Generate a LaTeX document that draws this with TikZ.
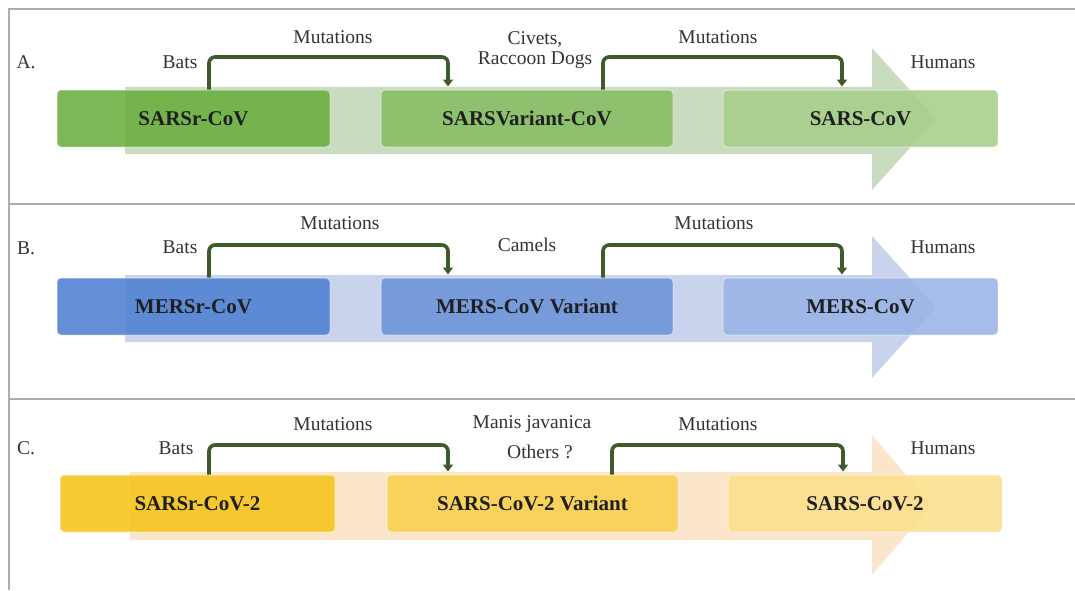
\documentclass[tikz,border=0pt]{standalone}
\usepackage{fontspec}
\setmainfont{Liberation Serif}
\usetikzlibrary{arrows.meta,calc}
\definecolor{gA1}{HTML}{6AAE3D}
\definecolor{gA2}{HTML}{86BE63}
\definecolor{gA3}{HTML}{A6CF8B}
\definecolor{gAr}{HTML}{C9DCBF}
\definecolor{bB1}{HTML}{4F80D2}
\definecolor{bB2}{HTML}{6B93D8}
\definecolor{bB3}{HTML}{9AB4E7}
\definecolor{bBr}{HTML}{CAD3EC}
\definecolor{yC1}{HTML}{F6C41A}
\definecolor{yC2}{HTML}{F8D04C}
\definecolor{yC3}{HTML}{FBDF8C}
\definecolor{yCr}{HTML}{FBE6CB}
\definecolor{brkc}{HTML}{3E5B2B}
\begin{document}
\begin{tikzpicture}[x=1pt,y=-1pt,
  lbl/.style={font=\fontsize{19.5}{21}\selectfont, text=black!80, inner sep=0pt, align=center},
  box/.style={rounded corners=4pt, minimum height=57pt, font=\bfseries\fontsize{21}{24}\selectfont,
    text=black!88, inner sep=0pt, fill opacity=0.88, text opacity=1, draw=white, draw opacity=0.45, line width=1pt},
  brk/.style={draw=brkc, line width=3.6pt, rounded corners=6pt, -{Triangle[width=10pt,length=7pt]}},
  framel/.style={draw=gray!65, line width=1.3pt}]
\useasboundingbox (0,0) rectangle (1075,590);
% frame
\draw[framel] (9,590) -- (9,9) -- (1075,9);
\draw[framel] (9,204) -- (1075,204);
\draw[framel] (9,399) -- (1075,399);

% ---------- Panel A ----------
\begin{scope}
\fill[gAr] (125,87) -- (872,87) -- (872,48) -- (936,119) -- (872,190) -- (872,154) -- (125,154) -- cycle;
\node[lbl] (A-let) at (26,62) {A.};
\node[lbl] (A-bats) at (180,62) {Bats};
\node[lbl] (A-mut1) at (333,37) {Mutations};
\node[lbl, font=\fontsize{19.5}{20}\selectfont] (A-host) at (535,50) {Civets,\\Raccoon Dogs};
\node[lbl] (A-mut2) at (718,37) {Mutations};
\node[lbl] (A-hum) at (943,62) {Humans};
\node[box, fill=gA1, minimum width=273pt] (A-b1) at (193.5,118.5) {SARSr-CoV};
\node[box, fill=gA2, minimum width=292pt] (A-b2) at (527,118.5) {SARSVariant-CoV};
\node[box, fill=gA3, minimum width=275pt] (A-b3) at (860.5,118.5) {SARS-CoV};
\coordinate (A-k1) at (209,57); \coordinate (A-k2) at (448,57);
\coordinate (A-k3) at (603,57); \coordinate (A-k4) at (842,57);
\draw[brk] (A-b1.north -| A-k1) -- (A-k1) -- (A-k2) -- ([yshift=3pt]A-b2.north -| A-k2);
\draw[brk] (A-b2.north -| A-k3) -- (A-k3) -- (A-k4) -- ([yshift=3pt]A-b3.north -| A-k4);
\end{scope}

% ---------- Panel B ----------
\begin{scope}[yshift=-188pt]
\fill[bBr] (125,87) -- (872,87) -- (872,48) -- (936,119) -- (872,190) -- (872,154) -- (125,154) -- cycle;
\node[lbl] (B-let) at (26,60) {B.};
\node[lbl] (B-bats) at (180,59) {Bats};
\node[lbl] (B-mut1) at (340,35) {Mutations};
\node[lbl] (B-host) at (527,57) {Camels};
\node[lbl] (B-mut2) at (714,35) {Mutations};
\node[lbl] (B-hum) at (943,59) {Humans};
\node[box, fill=bB1, minimum width=273pt] (B-b1) at (193.5,118.5) {MERSr-CoV};
\node[box, fill=bB2, minimum width=292pt] (B-b2) at (527,118.5) {MERS-CoV Variant};
\node[box, fill=bB3, minimum width=275pt] (B-b3) at (860.5,118.5) {MERS-CoV};
\coordinate (B-k1) at (209,57); \coordinate (B-k2) at (448,57);
\coordinate (B-k3) at (603,57); \coordinate (B-k4) at (842,57);
\draw[brk] (B-b1.north -| B-k1) -- (B-k1) -- (B-k2) -- ([yshift=3pt]B-b2.north -| B-k2);
\draw[brk] (B-b2.north -| B-k3) -- (B-k3) -- (B-k4) -- ([yshift=3pt]B-b3.north -| B-k4);
\end{scope}

% ---------- Panel C ----------
\begin{scope}[yshift=-385pt]
\fill[yCr] (130,87) -- (872,87) -- (872,50) -- (932,120) -- (872,190) -- (872,155) -- (130,155) -- cycle;
\node[lbl] (C-let) at (26,63) {C.};
\node[lbl] (C-bats) at (176,63) {Bats};
\node[lbl] (C-mut1) at (333,39) {Mutations};
\node[lbl] (C-host1) at (532,39) {Manis javanica};
\node[lbl] (C-host2) at (540,67) {Others ?};
\node[lbl] (C-mut2) at (718,39) {Mutations};
\node[lbl] (C-hum) at (943,63) {Humans};
\node[box, fill=yC1, minimum width=275pt] (C-b1) at (197.5,118.5) {SARSr-CoV-2};
\node[box, fill=yC2, minimum width=291pt] (C-b2) at (532.5,118.5) {SARS-CoV-2 Variant};
\node[box, fill=yC3, minimum width=274pt] (C-b3) at (865,118.5) {SARS-CoV-2};
\coordinate (C-k1) at (209,60); \coordinate (C-k2) at (448,60);
\coordinate (C-k3) at (612,60); \coordinate (C-k4) at (843,60);
\draw[brk] (C-b1.north -| C-k1) -- (C-k1) -- (C-k2) -- ([yshift=3pt]C-b2.north -| C-k2);
\draw[brk] (C-b2.north -| C-k3) -- (C-k3) -- (C-k4) -- ([yshift=3pt]C-b3.north -| C-k4);
\end{scope}
\end{tikzpicture}
\end{document}
